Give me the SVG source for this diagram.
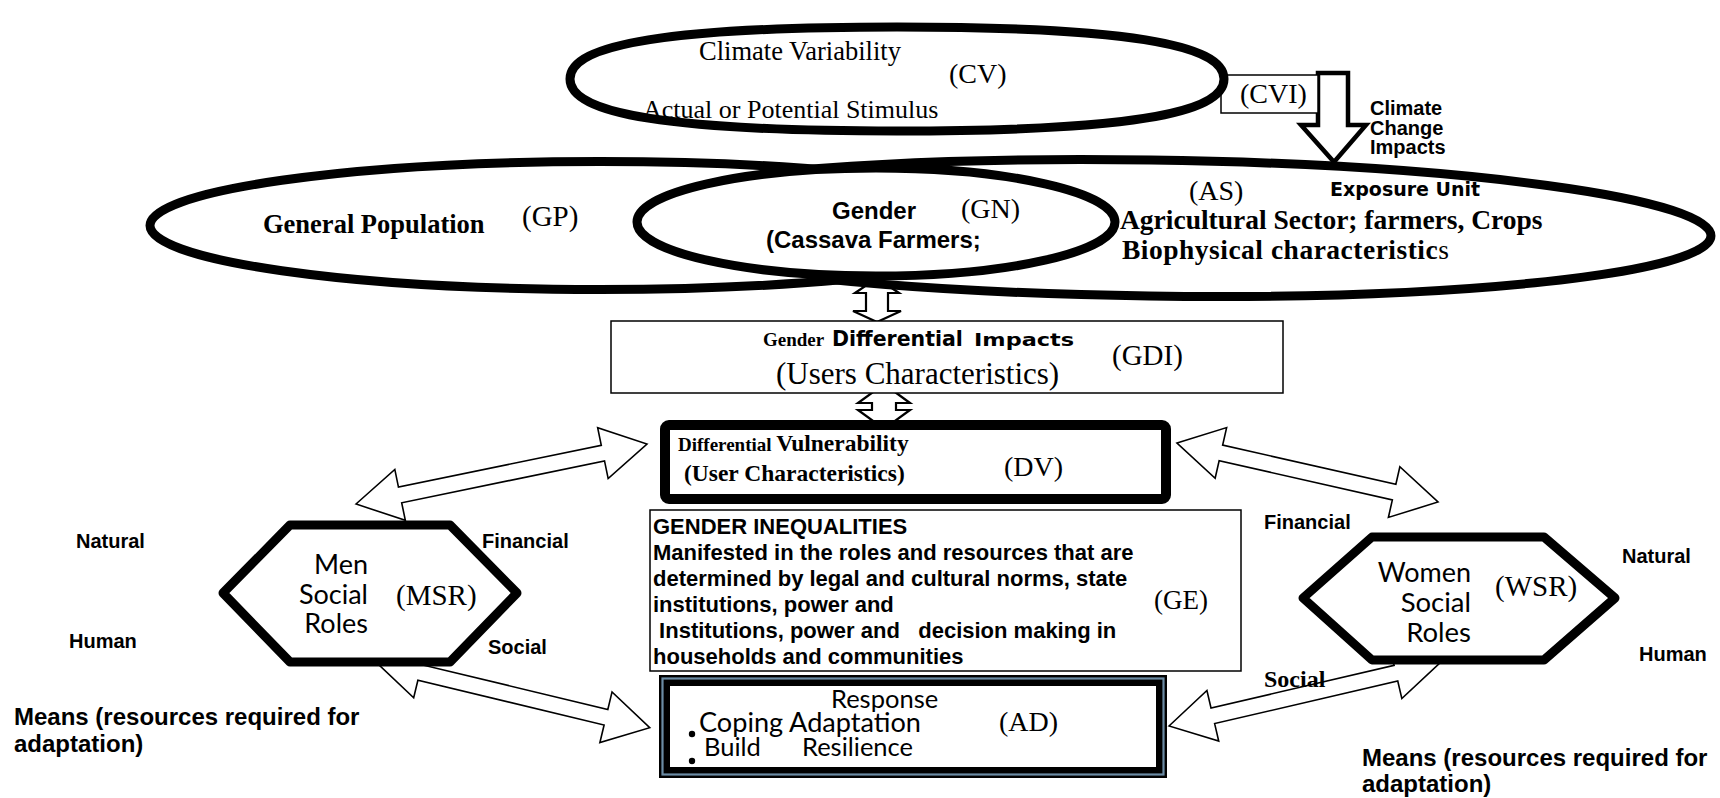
<svg xmlns="http://www.w3.org/2000/svg" width="1720" height="798" viewBox="0 0 1720 798">
  <style>
    .thick { fill: #fff; stroke: #000; stroke-width: 9; }
    .thin { fill: #fff; stroke: #000; stroke-width: 1.5; }
    .harrow { fill: #fff; stroke: #000; stroke-width: 1.6; stroke-linejoin: miter; }
    .sarrow { fill: #fff; stroke: #000; stroke-width: 2.2; stroke-linejoin: miter; }
    .serif { font-family: "Liberation Serif", "Times New Roman", serif; fill: #000; }
    .sans { font-family: "Liberation Sans", Arial, sans-serif; fill: #000; }
    .wide { font-family: "DejaVu Sans", Verdana, sans-serif; fill: #000; }
    .geo { font-family: Lato, "Noto Sans", sans-serif; fill: #000; }
    .b { font-weight: bold; }
  </style>
  <rect width="1720" height="798" fill="#fff"/>

  <!-- connectors -->
  <g id="connectors">
    <!-- climate change impacts: hollow down arrow -->
    <polygon points="1318,73 1348,73 1348,125 1366,125 1334,162 1301,125 1318,125" fill="#fff" stroke="#000" stroke-width="4.5" stroke-linejoin="miter"/>
    <!-- exposure unit <-> GDI -->
    <polygon class="sarrow" points="877,278 899,293 888,293 888,311 901,311 877,322 853,311 866,311 866,293 855,293"/>
    <!-- GDI <-> DV -->
    <polygon class="sarrow" points="884,384 910,403 896,403 896,410 910,410 884,429 858,410 872,410 872,403 858,403"/>
    <!-- MSR <-> DV -->
    <polygon class="harrow" transform="translate(356 504) rotate(-11.65)" points="0,0 45,-26 45,-8 252.1,-8 252.1,-26 297.1,0 252.1,26 252.1,8 45,8 45,26"/>
    <!-- DV <-> WSR -->
    <polygon class="harrow" transform="translate(1177 443) rotate(12.74)" points="0,0 45,-26 45,-8 222.6,-8 222.6,-26 267.6,0 222.6,26 222.6,8 45,8 45,26"/>
    <!-- MSR <-> AD -->
    <polygon class="harrow" transform="translate(376 662) rotate(13.5)" points="0,0 45,-26 45,-8 236.5,-8 236.5,-26 281.5,0 236.5,26 236.5,8 45,8 45,26"/>
    <!-- AD <-> WSR -->
    <polygon class="harrow" transform="translate(1169 726) rotate(-13.1)" points="0,0 45,-26 45,-8 233,-8 233,-26 278,0 233,26 233,8 45,8 45,26"/>
  </g>

  <!-- exposure unit: agricultural sector -->
  <g id="AS">
    <ellipse class="thick" cx="1150" cy="228" rx="561" ry="68" transform="rotate(0.8 1150 228)"/>
  </g>

  <!-- general population -->
  <g id="GP">
    <ellipse class="thick" cx="600" cy="225.5" rx="450" ry="64"/>
    <text class="serif b" font-size="26.5" x="263" y="233">General Population</text>
    <text class="serif" font-size="29" x="522" y="226">(GP)</text>
  </g>

  <!-- gender -->
  <g id="GN">
    <ellipse class="thick" cx="876" cy="222" rx="239" ry="54"/>
    <text class="sans b" font-size="24" x="832" y="219">Gender</text>
    <text class="serif" font-size="28" x="961" y="218">(GN)</text>
    <text class="sans b" font-size="24" x="766" y="248">(Cassava Farmers;</text>
  </g>

  <g id="AS-labels">
    <text class="serif" font-size="28" x="1189" y="200">(AS)</text>
    <text class="wide b" font-size="19" x="1330" y="196">Exposure Unit</text>
    <text class="serif b" font-size="27.5" x="1120" y="229">Agricultural Sector; farmers, Crops</text>
    <text class="serif" font-size="27.5" x="1122" y="259" letter-spacing="0.5"><tspan font-weight="bold">Biophysical characteristic</tspan>s</text>
  </g>

  <!-- climate variability impacts box -->
  <g id="CVI">
    <rect class="thin" x="1221" y="75" width="97" height="38"/>
    <text class="serif" font-size="28" x="1240" y="103">(CVI)</text>
  </g>

  <!-- climate variability -->
  <g id="CV">
    <path class="thick" d="M 570,79 C 570,44 670,27 897,27 C 1124,27 1224,44 1224,79 C 1224,114 1124,131 897,131 C 670,131 570,114 570,79 Z"/>
    <text class="serif" font-size="26.5" x="699" y="60">Climate Variability</text>
    <text class="serif" font-size="28" x="949" y="83">(CV)</text>
    <text class="serif" font-size="26" x="643" y="118">Actual or Potential Stimulus</text>
  </g>

  <g id="CCI-label">
    <text class="sans b" font-size="20" x="1370" y="115">Climate</text>
    <text class="sans b" font-size="20" x="1370" y="135">Change</text>
    <text class="sans b" font-size="20" x="1370" y="154">Impacts</text>
  </g>

  <!-- gender differential impacts -->
  <g id="GDI">
    <rect class="thin" x="611" y="321" width="672" height="72"/>
    <text class="serif b" font-size="19" x="763" y="346">Gender</text>
    <text class="wide b" font-size="20.5" x="832" y="346">Differential</text>
    <text class="wide b" font-size="18.5" x="974" y="346" textLength="100" lengthAdjust="spacingAndGlyphs">Impacts</text>
    <text class="serif" font-size="31" x="776" y="384">(Users Characteristics)</text>
    <text class="serif" font-size="29" x="1112" y="365">(GDI)</text>
  </g>

  <!-- differential vulnerability -->
  <g id="DV">
    <rect x="665" y="425" width="501" height="74" rx="4" fill="#fff" stroke="#000" stroke-width="10" stroke-linejoin="round"/>
    <text class="serif b" x="678" y="451"><tspan font-size="19">Differential </tspan><tspan font-size="23.5">Vulnerability</tspan></text>
    <text class="serif b" font-size="23.5" x="684" y="481">(User Characteristics)</text>
    <text class="serif" font-size="28" x="1004" y="476">(DV)</text>
  </g>

  <!-- gender inequalities -->
  <g id="GE">
    <rect class="thin" x="650" y="510" width="591" height="161"/>
    <text class="sans b" font-size="22" x="653" y="534">GENDER INEQUALITIES</text>
    <text class="sans b" font-size="22" x="653" y="560">Manifested in the roles and resources that are</text>
    <text class="sans b" font-size="22" x="653" y="586">determined by legal and cultural norms, state</text>
    <text class="sans b" font-size="22" x="653" y="612">institutions, power and</text>
    <text class="sans b" font-size="22" x="653" y="638" xml:space="preserve"> Institutions, power and   decision making in</text>
    <text class="sans b" font-size="22" x="653" y="664">households and communities</text>
    <text class="serif" font-size="27" x="1154" y="609">(GE)</text>
  </g>

  <!-- adaptation response -->
  <g id="AD">
    <rect x="659" y="675" width="508" height="103" fill="#000"/>
    <rect x="662.5" y="678.5" width="501" height="96" fill="none" stroke="#6b8ba4" stroke-width="2.2"/>
    <rect x="670" y="686" width="486" height="81" fill="#fff"/>
    <text class="geo" font-size="25.5" x="831" y="708">Response</text>
    <text class="geo" font-size="26" x="699" y="732" textLength="222" lengthAdjust="spacingAndGlyphs">Coping Adaptation</text>
    <text class="geo" font-size="25.5" x="704" y="756">Build</text>
    <text class="geo" font-size="25.5" x="802" y="756">Resilience</text>
    <circle cx="692" cy="734" r="3.2" fill="#000"/>
    <circle cx="692" cy="761" r="3.2" fill="#000"/>
    <text class="serif" font-size="28" x="999" y="731">(AD)</text>
  </g>

  <!-- men social roles -->
  <g id="MSR">
    <polygon points="223,593 290,525 450,525 517,593 450,662 290,662" fill="#fff" stroke="#000" stroke-width="9" stroke-linejoin="round"/>
    <text class="geo" font-size="27" x="368" y="574" text-anchor="end">Men</text>
    <text class="geo" font-size="27" x="368" y="604" text-anchor="end">Social</text>
    <text class="geo" font-size="27" x="368" y="633" text-anchor="end">Roles</text>
    <text class="serif" font-size="29" x="396" y="605">(MSR)</text>
  </g>

  <g id="MSR-means">
    <text class="sans b" font-size="20" x="76" y="548">Natural</text>
    <text class="sans b" font-size="20" x="482" y="548">Financial</text>
    <text class="sans b" font-size="20" x="69" y="648">Human</text>
    <text class="sans b" font-size="20" x="488" y="654">Social</text>
    <text class="sans b" font-size="24" x="14" y="725">Means (resources required for</text>
    <text class="sans b" font-size="24" x="14" y="752">adaptation)</text>
  </g>

  <!-- women social roles -->
  <g id="WSR">
    <polygon points="1303,598 1372,537 1544,537 1615,598 1544,660 1372,660" fill="#fff" stroke="#000" stroke-width="9" stroke-linejoin="round"/>
    <text class="geo" font-size="27" x="1471" y="582" text-anchor="end">Women</text>
    <text class="geo" font-size="27.5" x="1471" y="612" text-anchor="end">Social</text>
    <text class="geo" font-size="27.5" x="1471" y="642" text-anchor="end">Roles</text>
    <text class="serif" font-size="29" x="1495" y="596">(WSR)</text>
  </g>

  <g id="WSR-means">
    <text class="sans b" font-size="20" x="1264" y="529">Financial</text>
    <text class="sans b" font-size="20" x="1622" y="563">Natural</text>
    <text class="sans b" font-size="20" x="1639" y="661">Human</text>
    <text class="serif b" font-size="24" x="1264" y="687">Social</text>
    <text class="sans b" font-size="24" x="1362" y="766">Means (resources required for</text>
    <text class="sans b" font-size="24" x="1362" y="792">adaptation)</text>
  </g>
</svg>
